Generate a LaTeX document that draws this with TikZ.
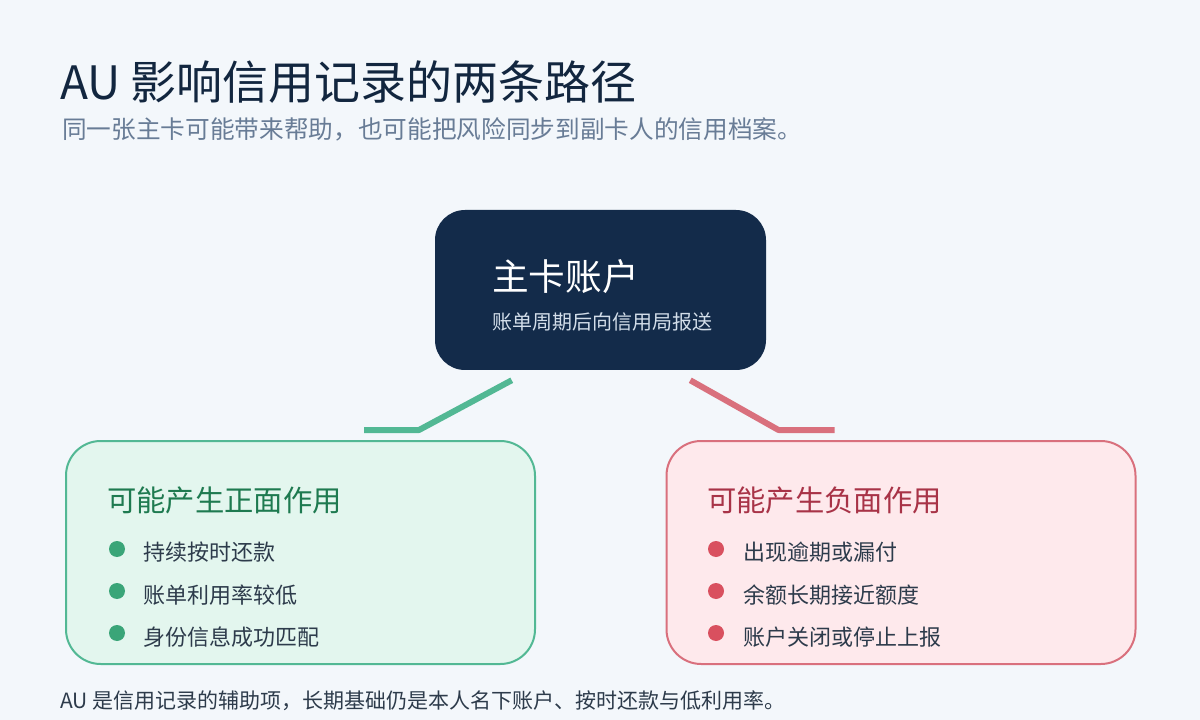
\documentclass[tikz,border=0pt]{standalone}
\usepackage{fontspec}
\setmainfont{Noto Sans CJK SC}
\definecolor{bgc}{HTML}{F3F7FB}
\definecolor{titlec}{HTML}{12263F}
\definecolor{subc}{HTML}{687C96}
\definecolor{mainc}{HTML}{132B4A}
\definecolor{mainsub}{HTML}{D3DEEA}
\definecolor{posfill}{HTML}{E3F6EE}
\definecolor{posline}{HTML}{52B894}
\definecolor{poshead}{HTML}{1E7A50}
\definecolor{posdot}{HTML}{3AA578}
\definecolor{negfill}{HTML}{FEE9EC}
\definecolor{negline}{HTML}{D9707D}
\definecolor{neghead}{HTML}{A83347}
\definecolor{negdot}{HTML}{D9505F}
\definecolor{itemc}{HTML}{2D3B4B}

\begin{document}
\begin{tikzpicture}[x=0.75pt,y=-0.75pt,line join=round]
\tikzstyle{card}=[rectangle,draw,line width=1.5pt,minimum width=351.75pt,minimum height=167.25pt,rounded corners=26pt]
\tikzstyle{txt}=[anchor=west,inner sep=0pt]
\tikzstyle{dot}=[circle,inner sep=0pt,minimum size=12pt]
\tikzstyle{link}=[line width=4.5pt]
\fill[bgc] (0,0) rectangle (1200,720);
% heading
\node[txt,font=\fontsize{34.5}{40}\selectfont,text=titlec] (title) at (60,82) {AU 影响信用记录的两条路径};
\node[txt,font=\fontsize{18.5}{22}\selectfont,text=subc] (subtitle) at (62,129) {同一张主卡可能带来帮助，也可能把风险同步到副卡人的信用档案。};
% boxes
\node[rectangle,fill=mainc,rounded corners=22.5pt,minimum width=248.25pt,minimum height=120pt] (main) at (600.5,290) {};
\node[txt,font=\fontsize{27.5}{32}\selectfont,text=white] (maintitle) at (492,277) {主卡账户};
\node[txt,font=\fontsize{15}{18}\selectfont,text=mainsub] (mainsub) at (492,322) {账单周期后向信用局报送};
\node[card,draw=posline,fill=posfill] (pos) at (300.5,552.5) {};
\node[card,draw=negline,fill=negfill] (neg) at (901,552.5) {};
\node[txt,font=\fontsize{22}{26}\selectfont,text=poshead] (poshead) at (107,500) {可能产生正面作用};
\node[txt,font=\fontsize{22}{26}\selectfont,text=neghead] (neghead) at (707,500) {可能产生负面作用};
\foreach \t [count=\i] in {持续按时还款,账单利用率较低,身份信息成功匹配} {
  \node[dot,fill=posdot] (pd\i) at (117,507+42*\i) {};
  \node[txt,font=\fontsize{16.5}{20}\selectfont,text=itemc] (pt\i) at (143,510+42.5*\i) {\t};
}
\foreach \t [count=\i] in {出现逾期或漏付,余额长期接近额度,账户关闭或停止上报} {
  \node[dot,fill=negdot] (nd\i) at (716,507+42*\i) {};
  \node[txt,font=\fontsize{16.5}{20}\selectfont,text=itemc] (nt\i) at (743,510+42.5*\i) {\t};
}
% connectors
\coordinate (gs) at ([shift={(77,10)}]main.south west);
\coordinate (gb) at ([shift={(354,-10)}]pos.north west);
\coordinate (ge) at ([shift={(299,-10)}]pos.north west);
\coordinate (rs) at ([shift={(-76,10)}]main.south east);
\coordinate (rb) at ([shift={(113,-10)}]neg.north west);
\coordinate (re) at ([shift={(169,-10)}]neg.north west);
\draw[link,posline] (gs) -- (gb) -- (ge);
\draw[link,negline] (rs) -- (rb) -- (re);
\node[txt,font=\fontsize{15.75}{19}\selectfont,text=itemc] (note) at (60,701) {AU 是信用记录的辅助项，长期基础仍是本人名下账户、按时还款与低利用率。};
\end{tikzpicture}
\end{document}
